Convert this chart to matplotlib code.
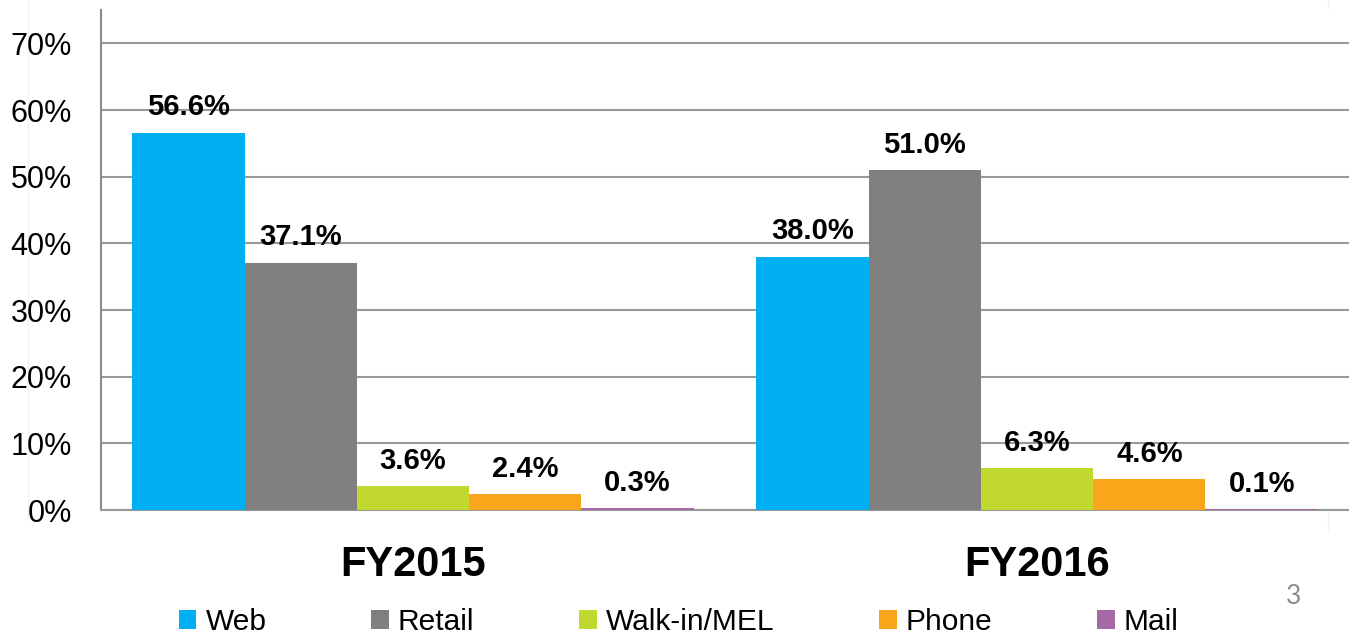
import matplotlib
matplotlib.use("Agg")
import matplotlib.pyplot as plt
import numpy as np
from matplotlib.patches import Patch
from matplotlib.lines import Line2D

categories = ["FY2015", "FY2016"]
series = ["Web", "Retail", "Walk-in/MEL", "Phone", "Mail"]
values = {
    "Web": [56.6, 38.0],
    "Retail": [37.1, 51.0],
    "Walk-in/MEL": [3.6, 6.3],
    "Phone": [2.4, 4.6],
    "Mail": [0.3, 0.1],
}
colors = ["#00B0F0", "#808080", "#C1D82F", "#FAA61A", "#A569A5"]
yticks = [0, 10, 20, 30, 40, 50, 60, 70]
page_number = "3"

plt.rcParams["font.family"] = ["Liberation Sans", "DejaVu Sans"]

fig = plt.figure(figsize=(13.49, 6.35), dpi=100)
ax = fig.add_axes([101 / 1349, 1 - 510 / 635, 1 - 101 / 1349, 500 / 635])

x = np.arange(len(categories))
w = 0.18
n = len(series)
for i, (s, c) in enumerate(zip(series, colors)):
    offs = (i - (n - 1) / 2) * w
    ax.bar(x + offs, values[s], width=w, color=c, zorder=3, linewidth=0)
    for xi, v in zip(x + offs, values[s]):
        ax.annotate(f"{v:.1f}%", xy=(xi, v), xytext=(0, 12.5), textcoords="offset points",
                    ha="center", va="baseline", fontsize=21, fontweight="bold", color="black")

ax.set_xlim(-0.5, 1.5)
ax.set_ylim(0, 75)
ax.set_yticks(yticks)
ax.set_yticklabels([f"{t}%" for t in yticks], fontsize=22)
ax.set_xticks(x)
ax.set_xticklabels(categories, fontsize=30, fontweight="bold")
ax.tick_params(axis="y", length=0, pad=21)
ax.tick_params(axis="x", length=0, pad=25)
ax.yaxis.grid(True, color="#999999", linewidth=1.5, zorder=0)
ax.set_axisbelow(True)
for sp in ["top", "right"]:
    ax.spines[sp].set_visible(False)
ax.spines["left"].set_color("#8a8a8a")
ax.spines["left"].set_linewidth(1.5)
ax.spines["bottom"].set_color("#999999")
ax.spines["bottom"].set_linewidth(1.5)

handles = [Patch(facecolor=c, edgecolor="none", label=s) for s, c in zip(series, colors)]
fig.legend(handles=handles, loc="lower center", bbox_to_anchor=(0.503, -0.002), ncol=5,
           frameon=False, fontsize=21.5, handlelength=0.6, handleheight=0.6,
           handletextpad=0.3, columnspacing=3.5, borderpad=0, borderaxespad=0)

fig.text(1294 / 1349, 1 - 597 / 635, page_number, fontsize=19, color="#8c8c8c",
         ha="center", va="center", family=["Lato", "DejaVu Sans"])

fig.add_artist(Line2D([28 / 1349, 28 / 1349], [1 - 520 / 635, 1], transform=fig.transFigure,
                      color="#f2f2f2", linewidth=1, zorder=0))
fig.add_artist(Line2D([1328 / 1349, 1328 / 1349], [1 - 530 / 635, 1], transform=fig.transFigure,
                      color="#f2f2f2", linewidth=1, zorder=0))

fig.savefig("out.png", dpi=100)
